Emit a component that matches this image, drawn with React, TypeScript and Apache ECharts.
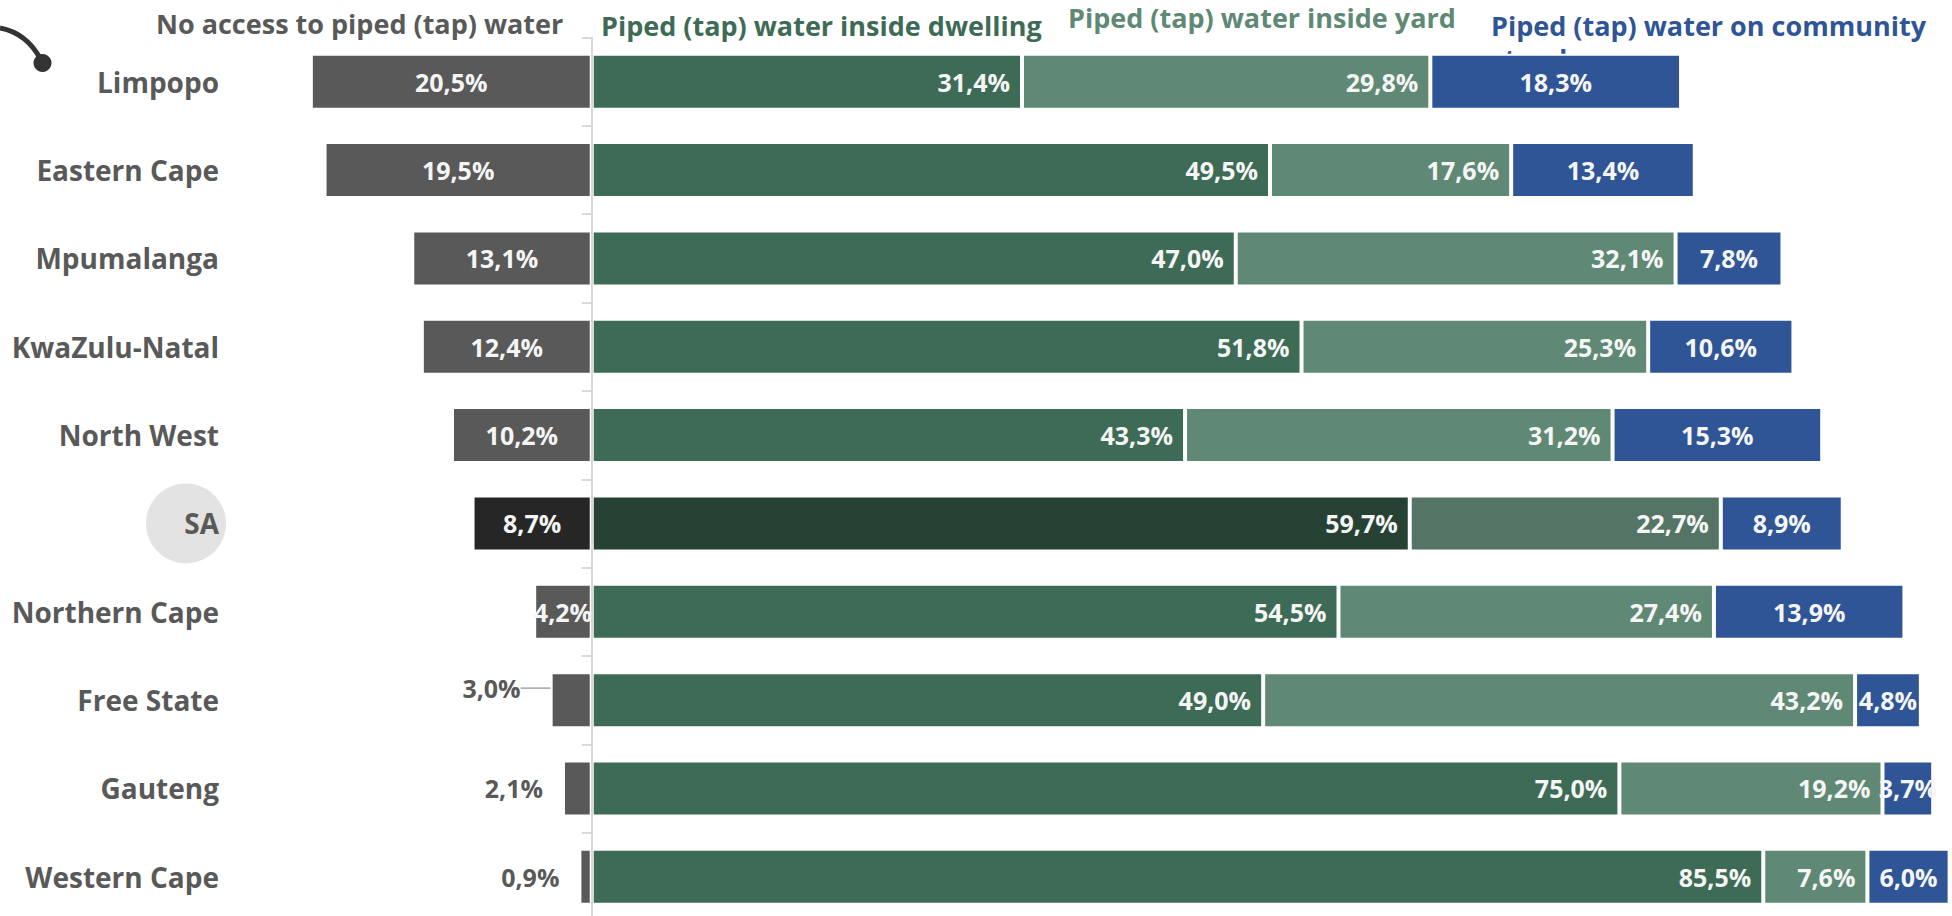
import React, { useEffect, useRef } from 'react';
import * as echarts from 'echarts';

const provinces = ['Limpopo', 'Eastern Cape', 'Mpumalanga', 'KwaZulu-Natal', 'North West', 'SA', 'Northern Cape', 'Free State', 'Gauteng', 'Western Cape'];
const noAccess = [20.5, 19.5, 13.1, 12.4, 10.2, 8.7, 4.2, 3.0, 2.1, 0.9];
const insideDwelling = [31.4, 49.5, 47.0, 51.8, 43.3, 59.7, 54.5, 49.0, 75.0, 85.5];
const insideYard = [29.8, 17.6, 32.1, 25.3, 31.2, 22.7, 27.4, 43.2, 19.2, 7.6];
const communityStand = [18.3, 13.4, 7.8, 10.6, 15.3, 8.9, 13.9, 4.8, 3.7, 6.0];
const seriesNames = [
  'No access to piped (tap) water',
  'Piped (tap) water inside dwelling',
  'Piped (tap) water inside yard',
  'Piped (tap) water on community\nstand',
];

const FONT = "'Open Sans', 'Noto Sans', sans-serif";
const SA_INDEX = provinces.indexOf('SA');
const GRID_TOP = 37.5;
const GRID_HEIGHT = 883.5;

const fmt = (v: number) => Math.abs(v).toFixed(1).replace('.', ',') + '%';

const labelBase = {
  show: true,
  color: '#f5f5f5',
  fontFamily: FONT,
  fontWeight: 'bold' as const,
  fontSize: 25,
  formatter: (p: any) => fmt(p.value),
};

export default function App() {
  const ref = useRef<HTMLDivElement>(null);

  useEffect(() => {
    if (!ref.current) return;
    const chart = echarts.init(ref.current, undefined, { renderer: 'svg' });

    const band = GRID_HEIGHT / provinces.length;
    const saY = GRID_TOP + band * (SA_INDEX + 0.5);

    const noAccessData = noAccess.map((v, i) => {
      const item: any = { value: -v };
      if (i === SA_INDEX) item.itemStyle = { color: '#262626' };
      if (v < 4) {
        item.label = { position: 'left', distance: i === 7 ? 30 : 20, color: '#595959' };
      }
      if (i === 7) {
        item.labelLine = { show: true, lineStyle: { color: '#a6a6a6', width: 1.5 } };
      }
      return item;
    });

    const mk = (vals: number[], saColor: string) =>
      vals.map((v, i) => (i === SA_INDEX ? { value: v, itemStyle: { color: saColor } } : v));

    const border = { borderColor: '#ffffff', borderWidth: 2 };

    const option: any = {
      animation: false,
      backgroundColor: '#ffffff',
      grid: {
        left: 304,
        width: 1647,
        top: GRID_TOP,
        height: GRID_HEIGHT,
        containLabel: false,
        outerBoundsMode: 'none',
      },
      xAxis: { type: 'value', min: -21, max: 99.2, show: false },
      yAxis: {
        type: 'category',
        data: provinces,
        inverse: true,
        z: 3,
        axisLine: { show: true, onZero: true, lineStyle: { color: '#d9d9d9', width: 2 } },
        axisTick: { show: true, length: 10, lineStyle: { color: '#d9d9d9', width: 2 } },
        axisLabel: {
          margin: 85,
          fontFamily: FONT,
          fontWeight: 'bold',
          fontSize: 28,
          color: '#595959',
        },
      },
      series: [
        {
          name: seriesNames[0],
          type: 'bar',
          stack: 'total',
          barWidth: 56,
          data: noAccessData,
          itemStyle: { color: '#595959', ...border },
          label: { ...labelBase, position: 'inside' },
          labelLayout: (p: any) => (p.dataIndex === 7 ? { dy: -12 } : {}),
        },
        {
          name: seriesNames[1],
          type: 'bar',
          stack: 'total',
          barWidth: 56,
          data: mk(insideDwelling, '#264235'),
          itemStyle: { color: '#3e6b56', ...border },
          label: { ...labelBase, position: 'insideRight', distance: 12 },
        },
        {
          name: seriesNames[2],
          type: 'bar',
          stack: 'total',
          barWidth: 56,
          data: mk(insideYard, '#547565'),
          itemStyle: { color: '#608975', ...border },
          label: { ...labelBase, position: 'insideRight', distance: 12 },
        },
        {
          name: seriesNames[3],
          type: 'bar',
          stack: 'total',
          barWidth: 56,
          data: mk(communityStand, '#2f5597'),
          itemStyle: { color: '#2f5597', ...border },
          label: { ...labelBase, position: 'inside' },
        },
      ],
      graphic: [
        {
          type: 'circle',
          z: 0,
          shape: { cx: 186, cy: saY, r: 40 },
          style: { fill: '#e3e3e3' },
        },
        {
          type: 'bezierCurve',
          z: 5,
          shape: { x1: 0, y1: 28, cpx1: 16, cpy1: 31, cpx2: 31, cpy2: 41, x2: 41, y2: 60 },
          style: { stroke: '#333333', lineWidth: 5, fill: 'none' },
        },
        {
          type: 'circle',
          z: 5,
          shape: { cx: 42.5, cy: 63, r: 9 },
          style: { fill: '#333333' },
        },
        {
          type: 'text',
          z: 0,
          x: 156,
          y: 23,
          style: { text: seriesNames[0], fill: '#595959', fontFamily: FONT, fontWeight: 'bold', fontSize: 27, verticalAlign: 'middle' },
        },
        {
          type: 'text',
          z: 0,
          x: 601,
          y: 25,
          style: { text: seriesNames[1], fill: '#3e6b56', fontFamily: FONT, fontWeight: 'bold', fontSize: 27, verticalAlign: 'middle' },
        },
        {
          type: 'text',
          z: 0,
          x: 1068,
          y: 17,
          style: { text: seriesNames[2], fill: '#608975', fontFamily: FONT, fontWeight: 'bold', fontSize: 27, verticalAlign: 'middle' },
        },
        {
          type: 'text',
          z: 0,
          x: 1491,
          y: 9,
          style: { text: seriesNames[3], fill: '#2f5597', fontFamily: FONT, fontWeight: 'bold', fontSize: 27, lineHeight: 33, verticalAlign: 'top' },
        },
      ],
    };

    chart.setOption(option);
    return () => chart.dispose();
  }, []);

  return (
    <div
      ref={ref}
      style={{ position: 'fixed', left: 0, top: 0, width: 1952, height: 916, background: '#fff' }}
    />
  );
}
